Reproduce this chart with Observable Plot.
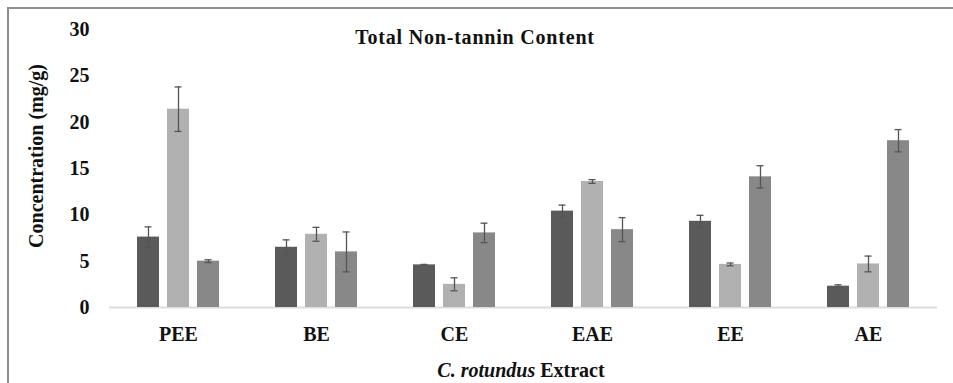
<!DOCTYPE html>
<html>
<head>
<meta charset="utf-8">
<script src="https://cdn.jsdelivr.net/npm/d3@7"></script>
<script src="https://cdn.jsdelivr.net/npm/@observablehq/plot@0.6"></script>
<style>
  html, body { margin: 0; padding: 0; background: #fff; }
  #wrap { position: relative; width: 953px; height: 383px; overflow: hidden; }
  #frame { position: absolute; left: 7px; top: 7px; right: -10px; bottom: -10px;
           border-left: 2px solid #8e8e8e; border-top: 2px solid #8e8e8e; }
  #chart { position: absolute; left: 0; top: 0; }
</style>
</head>
<body>
<div id="wrap"><div id="frame"></div><div id="chart"></div></div>
<script>
const categories = ["PEE", "BE", "CE", "EAE", "EE", "AE"];
const seriesNames = ["Series 1", "Series 2", "Series 3"];
const series1 = [7.6, 6.5, 4.6, 10.4, 9.3, 2.3];
const series1Err = [1.1, 0.8, 0.05, 0.65, 0.65, 0.15];
const series2 = [21.4, 7.9, 2.5, 13.6, 4.65, 4.7];
const series2Err = [2.4, 0.75, 0.7, 0.2, 0.15, 0.85];
const series3 = [5.0, 6.0, 8.05, 8.4, 14.1, 18.0];
const series3Err = [0.15, 2.15, 1.05, 1.3, 1.2, 1.2];
const yTicks = [0, 5, 10, 15, 20, 25, 30];
const titleText = "Total Non-tannin Content";
const yTitle = "Concentration (mg/g)";

const values = [series1, series2, series3];
const errors = [series1Err, series2Err, series3Err];
const data = categories.flatMap((c, i) =>
  seriesNames.map((s, j) => ({ category: c, series: s, value: values[j][i], err: errors[j][i] }))
);

const font = "'Liberation Serif', serif";

const plot = Plot.plot({
  width: 953,
  height: 383,
  marginLeft: 109,
  marginRight: 16,
  marginTop: 29,
  marginBottom: 76,
  style: { fontFamily: font, fontWeight: "bold", fontSize: "20px", background: "transparent", color: "#111" },
  fx: { domain: categories, padding: 0, label: null, tickSize: 0, tickPadding: 19, axis: "bottom" },
  x: { domain: seriesNames, axis: null, paddingInner: 0.258, paddingOuter: 0.855 },
  y: { domain: [0, 30], ticks: yTicks, tickSize: 0, tickPadding: 20, label: null },
  color: { domain: seriesNames, range: ["#5a5a5a", "#b1b1b1", "#888888"] },
  marks: [
    Plot.ruleY([0], { stroke: "#dcdcdc", strokeWidth: 2 }),
    Plot.barY(data, { fx: "category", x: "series", y: "value", fill: "series" }),
    Plot.ruleX(data, { fx: "category", x: "series", y1: d => d.value - d.err, y2: d => d.value + d.err, stroke: "#555", strokeWidth: 1.3 }),
    Plot.tickY(data, { fx: "category", x: "series", y: d => d.value + d.err, stroke: "#555", strokeWidth: 1.3, insetLeft: 7.5, insetRight: 7.5 }),
    Plot.tickY(data, { fx: "category", x: "series", y: d => d.value - d.err, stroke: "#555", strokeWidth: 1.3, insetLeft: 7.5, insetRight: 7.5 })
  ]
});

const svg = d3.select(plot);
svg.append("text")
  .attr("x", 475).attr("y", 44)
  .attr("text-anchor", "middle")
  .style("font-family", font).style("font-weight", "bold").style("font-size", "20px")
  .style("letter-spacing", "0.8px")
  .attr("fill", "#111")
  .text(titleText);

svg.append("text")
  .attr("transform", "translate(43,156) rotate(-90)")
  .attr("text-anchor", "middle")
  .style("font-family", font).style("font-weight", "bold").style("font-size", "20px")
  .attr("fill", "#111")
  .text(yTitle);

const xt = svg.append("text")
  .attr("x", 521).attr("y", 377)
  .attr("text-anchor", "middle")
  .style("font-family", font).style("font-weight", "bold").style("font-size", "20px")
  .attr("fill", "#111");
xt.append("tspan").style("font-style", "italic").text("C. rotundus");
xt.append("tspan").text(" Extract");

document.getElementById("chart").appendChild(plot);
</script>
</body>
</html>
